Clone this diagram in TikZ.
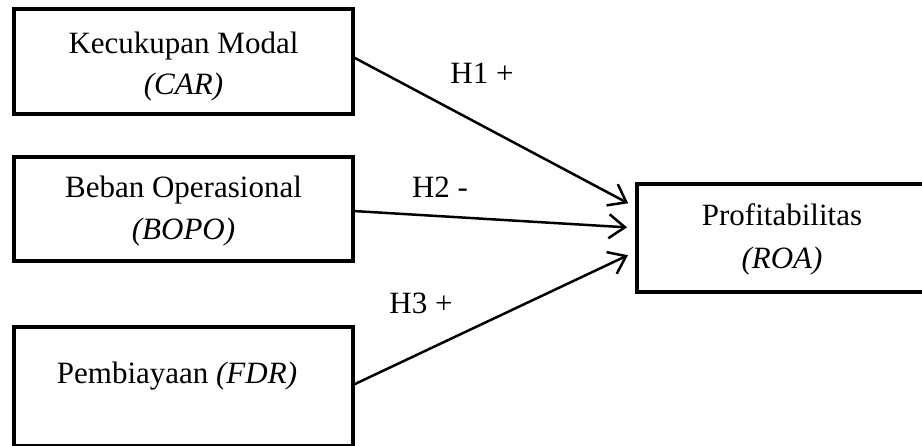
\documentclass[tikz,border=0pt]{standalone}
\usepackage{fontspec}
\setmainfont{Liberation Serif}
\usetikzlibrary{arrows.meta,calc}
\begin{document}
\begin{tikzpicture}[x=1pt,y=-1pt,
  box/.style={draw, line width=4.6pt, inner sep=0pt, outer sep=0pt},
  txt/.style={font=\fontsize{31}{37}\selectfont, inner sep=0pt, anchor=base},
  arr/.style={line width=2.5pt, -{Straight Barb[length=16pt,width=24pt]}, shorten >=10pt}]
\useasboundingbox (0,0) rectangle (922,445);
\node[box, minimum width=339pt, minimum height=105pt] (b1) at (183.5,61.5) {};
\node[box, minimum width=339pt, minimum height=104pt] (b2) at (183.5,209) {};
\node[box, minimum width=339pt, minimum height=119pt] (b3) at (183.5,386.5) {};
\node[box, minimum width=320pt, minimum height=108pt] (b4) at (797,238) {};
\node[txt] (t1a) at (183.5,53) {Kecukupan Modal};
\node[txt] (t1b) at (183.5,94) {\itshape (CAR)};
\node[txt] (t2a) at (183.5,197) {Beban Operasional};
\node[txt] (t2b) at (183.5,239) {\itshape (BOPO)};
\node[txt] (t3) at (177,383) {Pembiayaan \textit{(FDR)}};
\node[txt] (t4a) at (782,225) {Profitabilitas};
\node[txt] (t4b) at (782,268) {\itshape (ROA)};
\node[txt] (h1) at (482,83) {H1 +};
\node[txt] (h2) at (440,197) {H2 -};
\node[txt] (h3) at (421,313) {H3 +};
\coordinate (s1) at ($(b1.north east)!0.457!(b1.south east)$);
\coordinate (s2) at ($(b2.north east)!0.519!(b2.south east)$);
\coordinate (s3) at ($(b3.north east)!0.487!(b3.south east)$);
\coordinate (e1) at ($(b4.north west)!0.222!(b4.south west)$);
\coordinate (e2) at ($(b4.north west)!0.407!(b4.south west)$);
\coordinate (e3) at ($(b4.north west)!0.62!(b4.south west)$);
\draw[arr] (s1) -- (e1);
\draw[arr] (s2) -- (e2);
\draw[arr] (s3) -- (e3);
\end{tikzpicture}
\end{document}
